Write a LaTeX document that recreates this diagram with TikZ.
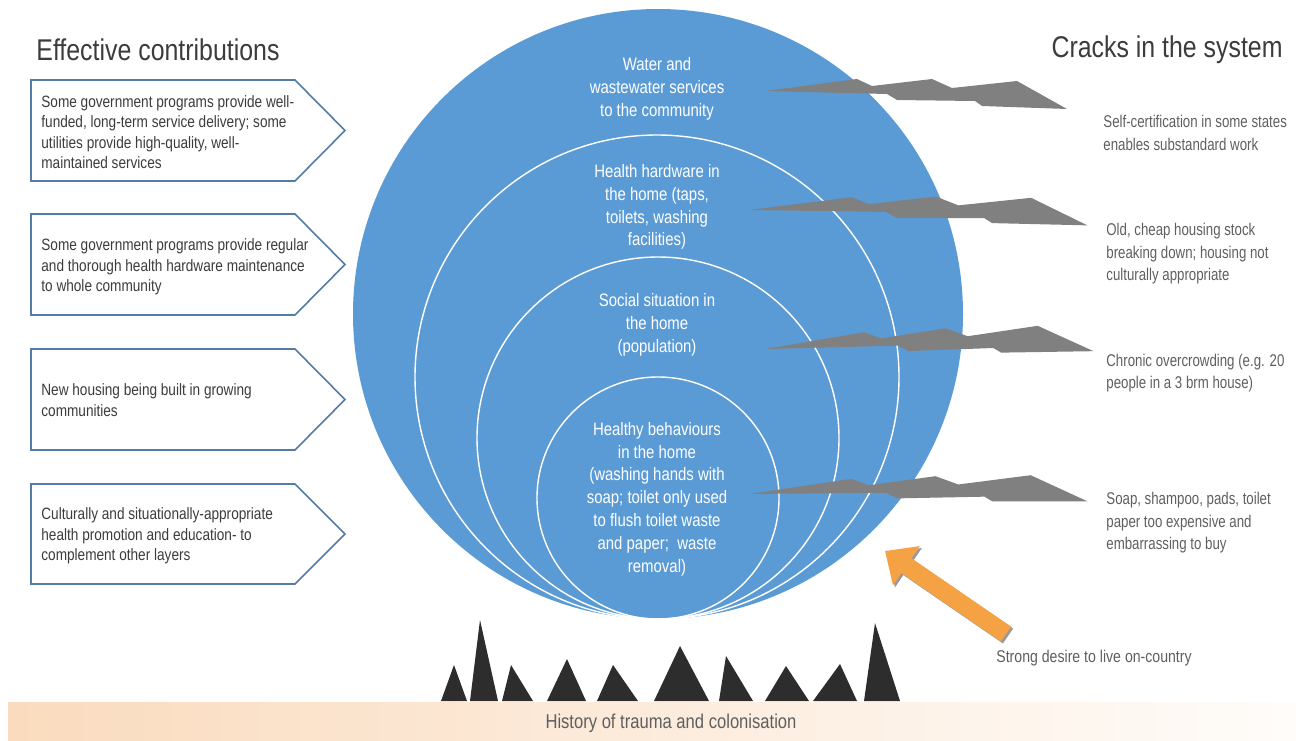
\documentclass[tikz,border=0pt]{standalone}
\usepackage{fontspec}
\setmainfont{Liberation Sans}[FakeStretch=0.83]
\newfontfamily\narrowfont{Liberation Sans}[FakeStretch=0.78]
\usepackage{xcolor}
\usepackage{tikz}
\usetikzlibrary{arrows.meta}
\definecolor{layerblue}{RGB}{91,155,213}
\definecolor{boxline}{RGB}{84,124,166}
\definecolor{crackgray}{RGB}{128,128,128}
\definecolor{spikedark}{RGB}{45,45,45}
\definecolor{desireorange}{RGB}{245,162,68}
\definecolor{bandpeach}{RGB}{250,219,190}
\definecolor{textgray}{RGB}{60,60,60}
\definecolor{notegray}{RGB}{95,95,95}

\tikzset{
    contrib/.style={draw=boxline, line width=0.8pt, fill=white},
    contribtext/.style={textgray, font=\fontsize{8.2}{10.25}\selectfont, align=left, anchor=west, inner sep=0pt},
    layertext/.style={white, font=\fontsize{9}{11.4}\selectfont, align=center, inner sep=0pt},
    cracktext/.style={notegray, font=\narrowfont\fontsize{8.5}{11.25}\selectfont, align=left, anchor=west, inner sep=0pt},
    heading/.style={textgray, font=\fontsize{15}{18}\selectfont, inner sep=0pt},
    crack/.pic={
        \fill[crackgray] (0,0) -- (92,-12) -- (107,-5) -- (167,-12) -- (187,-3) -- (252,-10)
            -- (302,18) -- (217,15) -- (210,10) -- (132,9) -- (122,3) -- cycle;
    },
}

\begin{document}
\begin{tikzpicture}[x=0.5pt, y=-0.5pt]
    \useasboundingbox (0,0) rectangle (1296,740);
    % Ground band
    \shade[left color=bandpeach, right color=bandpeach!8] (8,702) rectangle (1296,740);
    \node[notegray, font=\fontsize{10}{12}\selectfont, inner sep=0pt] (history) at (671,723) {History of trauma and colonisation};
    % Spikes
    \foreach \l/\r/\ax/\ay in {441/467/454/665, 470/498/480/620, 502/533/511/665, 547/586/567/659, 597/638/613/665,
        654/709/680/646, 719/753/726/656, 765/809/786/666, 813/857/840/664, 864/900/875/623}
        \fill[spikedark] (\l,701) -- (\ax,\ay) -- (\r,701) -- cycle;
    % Layers
    \fill[layerblue] (658,314) circle[radius=305];
    \draw[white, line width=0.7pt] (657,377) circle[radius=242];
    \draw[white, line width=0.7pt] (658,438) circle[radius=181];
    \draw[white, line width=0.7pt] (658,498) circle[radius=121];
    \node[layertext] (water) at (657,89) {Water and\\wastewater services\\to the community};
    \node[layertext] (hardware) at (657,207) {Health hardware in\\the home (taps,\\toilets, washing\\facilities)};
    \node[layertext] (social) at (657,325) {Social situation in\\the home\\(population)};
    \node[layertext] (behaviour) at (657,499) {Healthy behaviours\\in the home\\(washing hands with\\soap; toilet only used\\to flush toilet waste\\and paper;\ \ waste\\removal)};
    % Cracks
    \pic at (765,91) {crack};
    \pic[xscale=1.12, rotate=0.5] at (749,210) {crack};
    \pic[xscale=1.086, rotate=3] at (765,349) {crack};
    \pic[xscale=1.12, rotate=2] at (749,494) {crack};
    % Headings
    \node[heading, anchor=west] (effective) at (36,50) {Effective contributions};
    \node[heading, anchor=east] (cracks) at (1283,50) {Cracks in the system};
    % Contributions
    \foreach \t/\b in {80/181, 214/315, 349/450, 484/584}
        \draw[contrib] (31,\t) -- (295,\t) -- (345,{(\t+\b)/2}) -- (295,\b) -- (31,\b) -- cycle;
    \node[contribtext] (funded) at (41,132) {Some government programs provide well-\\funded, long-term service delivery; some\\utilities provide high-quality, well-\\maintained services};
    \node[contribtext] (maintenance) at (41,267) {Some government programs provide regular\\and thorough health hardware maintenance\\to whole community};
    \node[contribtext] (housing) at (41,400) {New housing being built in growing\\communities};
    \node[contribtext] (promotion) at (41,536) {Culturally and situationally-appropriate\\health promotion and education- to\\complement other layers};
    % Crack labels
    \node[cracktext] (selfcert) at (1103,133) {Self-certification in some states\\enables substandard work};
    \node[cracktext] (stock) at (1106,254) {Old, cheap housing stock\\breaking down; housing not\\culturally appropriate};
    \node[cracktext] (crowding) at (1106,373) {Chronic overcrowding (e.g. 20\\people in a 3 brm house)};
    \node[cracktext] (expense) at (1106,523) {Soap, shampoo, pads, toilet\\paper too expensive and\\embarrassing to buy};
    % Desire arrow
    \node[cracktext, font=\fontsize{8.5}{10}\selectfont] (desire) at (996,658) {Strong desire to live on-country};
    \coordinate (desiretail) at (1006,634);
    \coordinate (desirehead) at (885,551);
    \draw[gray!80, line width=9pt, -{Triangle[length=13pt, width=23pt]}, transform canvas={xshift=1pt, yshift=-1pt}] (desiretail) -- (desirehead);
    \draw[desireorange, line width=9pt, -{Triangle[length=13pt, width=23pt]}] (desiretail) -- (desirehead);
\end{tikzpicture}
\end{document}
